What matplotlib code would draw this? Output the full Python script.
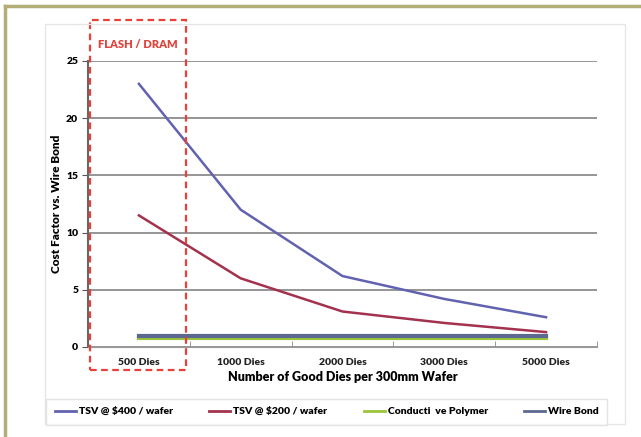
import matplotlib.pyplot as plt
from matplotlib.patches import Rectangle
from matplotlib.lines import Line2D

plt.rcParams['font.family'] = ['Lato', 'DejaVu Sans']

categories = ['500 Dies', '1000 Dies', '2000 Dies', '3000 Dies', '5000 Dies']
tsv_400 = [23.0, 12.0, 6.2, 4.2, 2.6]
tsv_200 = [11.5, 6.0, 3.1, 2.1, 1.3]
conductive = [0.75, 0.75, 0.75, 0.75, 0.75]
wire_bond = [1.0, 1.0, 1.0, 1.0, 1.0]
labels = ['TSV @ $400 / wafer', 'TSV @ $200 / wafer', 'Conducti  ve Polymer', 'Wire Bond']

fig = plt.figure(figsize=(6.41, 4.37), dpi=100)
fig.patch.set_facecolor('white')

# olive frame on left and top
fig.add_artist(Line2D([0.008, 0.008], [0, 0.986], transform=fig.transFigure, color='#b3ae78', lw=2.5))
fig.add_artist(Line2D([0.008, 1.0], [0.986, 0.986], transform=fig.transFigure, color='#b3ae78', lw=2.5))
# faint chart area border
fig.add_artist(Rectangle((0.07, 0.03), 0.905, 0.915, transform=fig.transFigure,
                         fill=False, ec='#e6e6e6', lw=1))

ax = fig.add_axes([0.1373, 0.206, 0.794, 0.6545])
x = range(len(categories))
ax.plot(x, tsv_400, color='#6262b0', lw=1.8)
ax.plot(x, tsv_200, color='#a3324e', lw=1.8)
ax.plot(x, conductive, color='#9bc63c', lw=3)
ax.plot(x, wire_bond, color='#5c6890', lw=3)

ax.set_xlim(-0.5, 4.5)
ax.set_ylim(0, 25)
ax.set_yticks([0, 5, 10, 15, 20, 25])
ax.set_xticks(list(x))
ax.set_xticklabels(categories, fontsize=7.5, fontweight='heavy', color='#222222')
ax.set_xticks([i + 0.5 for i in range(-1, 5)], minor=True)
ax.tick_params(axis='x', which='major', length=0, pad=8)
ax.tick_params(axis='x', which='minor', length=4, color='#888888', direction='in')
ax.tick_params(axis='y', labelsize=7.5, length=4, color='#555555', pad=3)
for t in ax.get_yticklabels():
    t.set_fontweight('heavy')
ax.yaxis.grid(True, color='#8c8c8c', lw=1.3)
ax.set_axisbelow(True)
for s in ['top', 'right']:
    ax.spines[s].set_visible(False)
ax.spines['left'].set_color('#666666')
ax.spines['left'].set_linewidth(1.5)
ax.spines['bottom'].set_color('#999999')
ax.set_xlabel('Number of Good Dies per 300mm Wafer', fontsize=9, fontweight='heavy', labelpad=3)
ax.set_ylabel('Cost Factor vs. Wire Bond', fontsize=8.5, fontweight='heavy', labelpad=3)

# FLASH / DRAM highlight
ax.add_patch(Rectangle((-0.48, -2.0), 0.94, 30.6, fill=False, ec='#e8403a', lw=1.6,
                       ls=(0, (3, 2)), clip_on=False, zorder=5))
ax.text(-0.01, 26.4, 'FLASH / DRAM', color='#e0443c', fontsize=8, fontweight='heavy',
        ha='center', va='center', clip_on=False)

handles = [Line2D([], [], color=c, lw=2) for c in ['#6262b0', '#a3324e', '#9bc63c', '#5c6890']]
fig.legend(handles, labels, loc='center', bbox_to_anchor=(0.51, 0.058), ncol=4,
           prop={'size': 7.5, 'weight': 'heavy'}, frameon=True, fancybox=False,
           edgecolor='#dddddd', handlelength=2, handletextpad=0.3, columnspacing=3.5,
           borderpad=0.8)

fig.savefig('out.png', dpi=100)
